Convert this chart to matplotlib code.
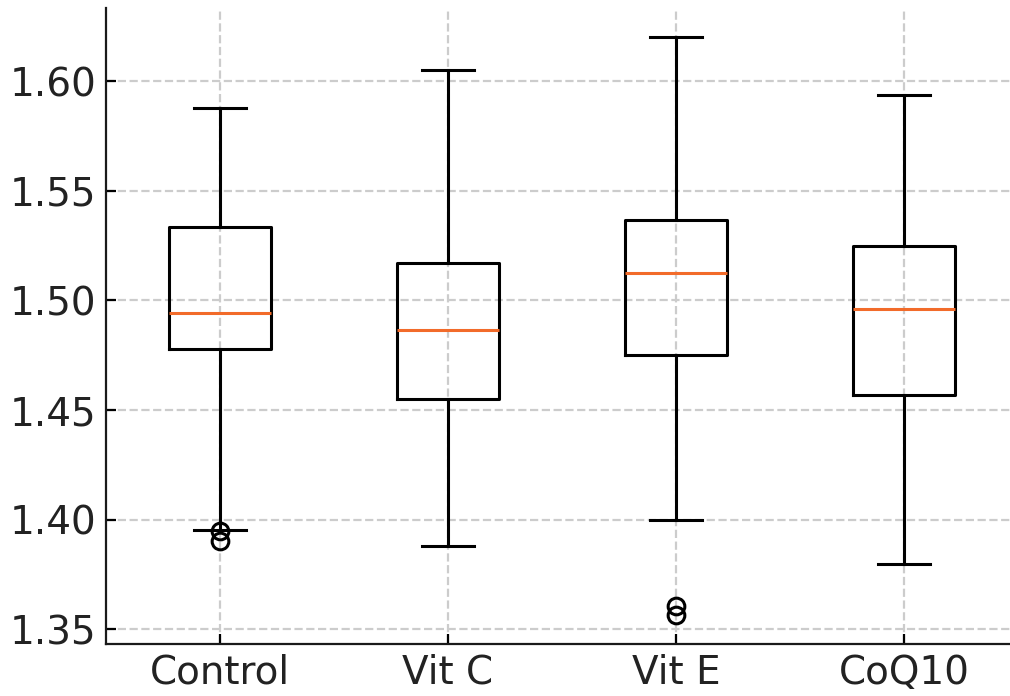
import matplotlib
matplotlib.use("Agg")
import matplotlib.pyplot as plt

groups = ["Control", "Vit C", "Vit E", "CoQ10"]
whislo = [1.3952, 1.3880, 1.3998, 1.3800]
q1 = [1.4778, 1.4552, 1.4753, 1.4570]
med = [1.4945, 1.4867, 1.5123, 1.4963]
q3 = [1.5333, 1.5170, 1.5366, 1.5247]
whishi = [1.5880, 1.6052, 1.6202, 1.5937]
fliers = [[1.3948, 1.3905], [], [1.3608, 1.3565], []]

plt.rcParams.update({
    "font.size": 14,
    "xtick.direction": "in",
    "ytick.direction": "in",
    "text.color": "#222222",
    "xtick.labelcolor": "#222222",
    "ytick.labelcolor": "#222222",
    "axes.edgecolor": "#1a1a1a",
})

# stats for bxp, one dict per group
stats = []
for i in range(len(groups)):
    stats.append({
        "label": groups[i],
        "whislo": whislo[i],
        "q1": q1[i],
        "med": med[i],
        "q3": q3[i],
        "whishi": whishi[i],
        "fliers": fliers[i],
    })

fig = plt.figure(figsize=(5.05, 3.48), dpi=200)
ax = fig.add_axes([106 / 1010, 52 / 696, 912 / 1010, 636 / 696])
lw = 1.1
ax.bxp(stats, widths=0.45,
       boxprops=dict(linewidth=lw),
       whiskerprops=dict(linewidth=lw),
       capprops=dict(linewidth=lw),
       medianprops=dict(linewidth=lw, color="#f26b2a"),
       flierprops=dict(markeredgewidth=lw))

ax.grid(True, linestyle="--", color="#cccccc", linewidth=0.8)
ax.set_axisbelow(True)
ax.spines["top"].set_visible(False)
ax.spines["right"].set_visible(False)

fig.savefig("out.png", dpi=200)
